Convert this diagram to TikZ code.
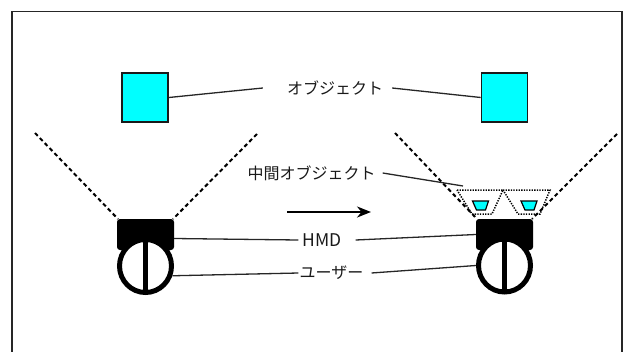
\documentclass[tikz,border=0pt]{standalone}
\usepackage{fontspec}
\setmainfont{Noto Sans CJK JP}
\usetikzlibrary{arrows.meta,shapes.geometric}
\definecolor{aqua}{RGB}{0,255,255}
\begin{document}
\begin{tikzpicture}[x=1pt,y=-1pt,
  cube/.style={draw=black!90,line width=1.6,fill=aqua,minimum width=46,minimum height=49,inner sep=0},
  hmdbox/.style={fill=black,rounded corners=3,minimum width=57,minimum height=31,inner sep=0},
  userball/.style={ellipse,draw=black,fill=white,line width=5,minimum width=52,minimum height=53,inner sep=0},
  lbl/.style={font=\fontsize{16}{19}\selectfont,text=black!90,inner sep=0},
  conn/.style={draw=black!85,line width=1.3},
  fov/.style={line width=2,dash pattern=on 4 off 3},
  mid/.style={line width=1.5,dash pattern=on 1.3 off 1.3},
  midobj/.style={draw=black,fill=aqua,line width=1.2}]
\useasboundingbox (0,0) rectangle (629,351);
% frame
\draw[line width=1.6,black!85] (12,360) -- (12,11.5) -- (622,11.5) -- (622,360);
% cubes
\node[cube] (cubeL) at (145,97.5) {};
\node[cube] (cubeR) at (504.5,97.5) {};
% FOV lines
\coordinate (fL1) at (35,133);
\coordinate (fL2) at (257,134);
\coordinate (fR1) at (395,133);
\coordinate (fR2) at (617,134);
\draw[fov] (fL1) -- (118,219);
\draw[fov] (fL2) -- (173,219);
\draw[fov] (fR1) -- (477,219);
\draw[fov] (fR2) -- (532,219);
% intermediate objects
\draw[mid] (457,190) -- (503,190) -- (492,214) -- (472,214) -- cycle;
\draw[mid] (503,190) -- (550,190) -- (540,214) -- (518,214) -- cycle;
\draw[midobj] (472.5,201) -- (488.5,201) -- (485.5,210) -- (476.5,210) -- cycle;
\draw[midobj] (521,201) -- (537,201) -- (534,210) -- (525,210) -- cycle;
\coordinate (midtip) at (463,186);
% HMDs and users
\node[hmdbox] (hmdL) at (145.5,234.5) {};
\node[userball] (userL) at (145.5,266) {};
\fill (143,222) rectangle (148,292.5);
\node[hmdbox] (hmdR) at (504.5,234.5) {};
\node[userball] (userR) at (504.5,265.5) {};
\fill (502,222) rectangle (507,292);
% arrow
\coordinate (arrA) at (287,212);
\coordinate (arrB) at (371,212);
\draw[line width=2,-{Stealth[length=14,width=11]}] (arrA) -- (arrB);
% labels
\node[lbl] (obj) at (335,88) {オブジェクト};
\node[lbl] (midl) at (311.5,173) {中間オブジェクト};
\node[lbl,font=\fontsize{17.5}{20}\selectfont] (hmd) at (322,240) {HMD};
\node[lbl] (user) at (331.5,273) {ユーザー};
% connectors
\draw[conn] (cubeL.east) -- ([xshift=-24]obj.west);
\draw[conn] ([xshift=9]obj.east) -- (cubeR.west);
\draw[conn] ([xshift=7]midl.east) -- (midtip);
\draw[conn] ([xshift=-4]hmd.west) -- ([yshift=-4]hmdL.east);
\draw[conn] ([xshift=14]hmd.east) -- (hmdR.west);
\draw[conn] ([xshift=-1]user.west) -- (userL.-20);
\draw[conn] ([xshift=8]user.east) -- (userR.west);
\end{tikzpicture}
\end{document}
